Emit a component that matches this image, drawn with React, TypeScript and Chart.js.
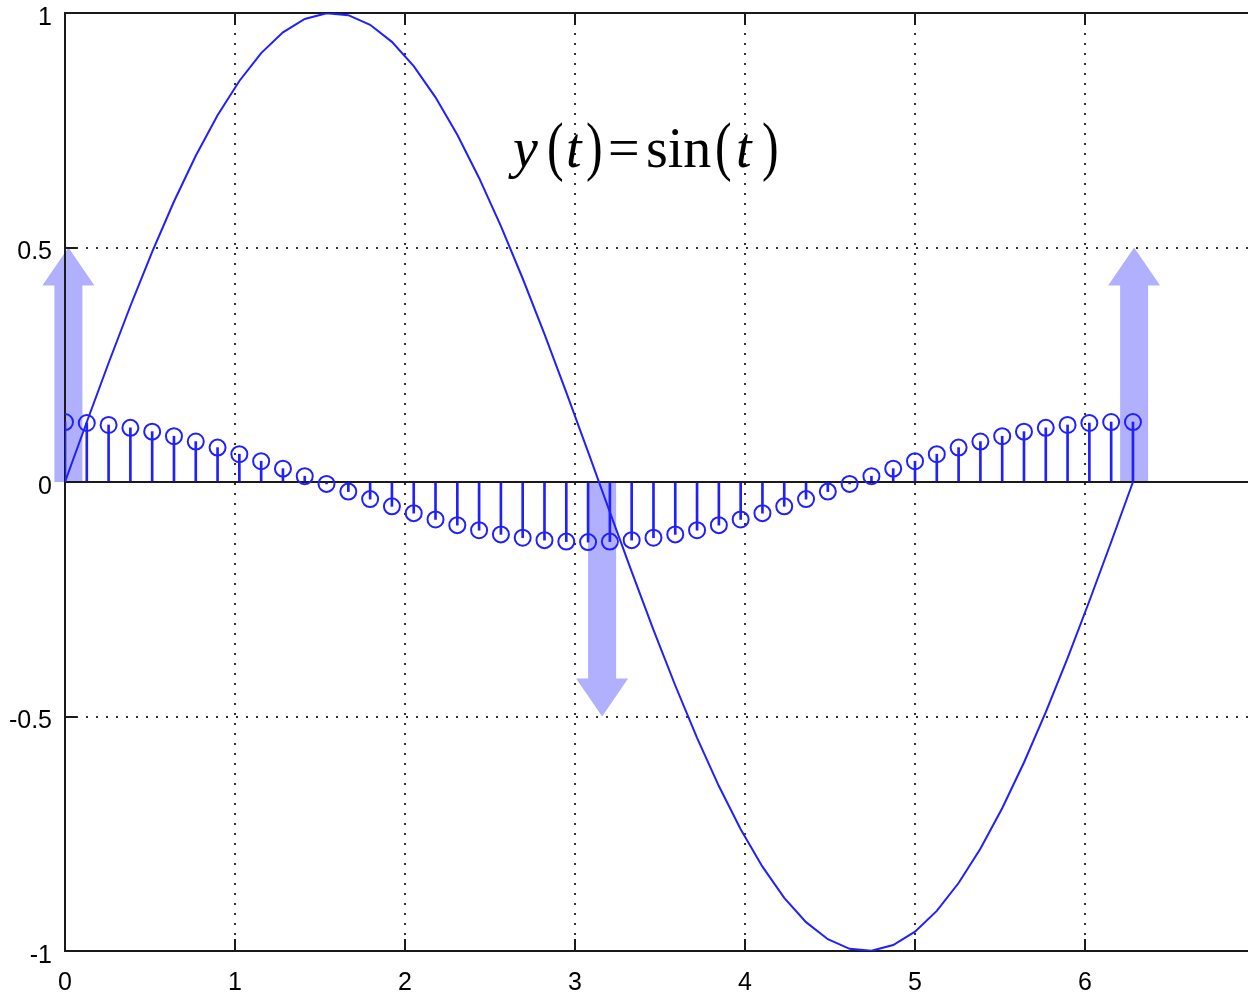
import React, { useEffect, useRef } from "react";
import { Chart, registerables } from "chart.js";

Chart.register(...registerables);

// sample instants t (0 .. 2π, 50 samples)
const T = [
  0, 0.1282, 0.2565, 0.3847, 0.5129, 0.6411, 0.7694, 0.8976, 1.0258, 1.1541,
  1.2823, 1.4105, 1.5387, 1.667, 1.7952, 1.9234, 2.0517, 2.1799, 2.3081, 2.4363,
  2.5646, 2.6928, 2.821, 2.9493, 3.0775, 3.2057, 3.3339, 3.4622, 3.5904, 3.7186,
  3.8469, 3.9751, 4.1033, 4.2315, 4.3598, 4.488, 4.6162, 4.7445, 4.8727, 5.0009,
  5.1291, 5.2574, 5.3856, 5.5138, 5.642, 5.7703, 5.8985, 6.0267, 6.155, 6.2832,
];

// y(t) = sin(t) curve values
const SINE = [
  0, 0.1279, 0.2537, 0.3753, 0.4907, 0.5981, 0.6957, 0.7818, 0.8551, 0.9144,
  0.9587, 0.9872, 0.9995, 0.9954, 0.9749, 0.9385, 0.8866, 0.8202, 0.7403, 0.6483,
  0.5455, 0.4339, 0.3151, 0.1912, 0.0641, -0.0641, -0.1912, -0.3151, -0.4339, -0.5455,
  -0.6483, -0.7403, -0.8202, -0.8866, -0.9385, -0.9749, -0.9954, -0.9995, -0.9872, -0.9587,
  -0.9144, -0.8551, -0.7818, -0.6957, -0.5981, -0.4907, -0.3753, -0.2537, -0.1279, 0,
];

// stem (increment) values
const STEMS = [
  0.1279, 0.1258, 0.1216, 0.1155, 0.1074, 0.0976, 0.0862, 0.0733, 0.0593, 0.0443,
  0.0285, 0.0123, -0.0041, -0.0205, -0.0365, -0.0519, -0.0664, -0.0799, -0.092, -0.1028,
  -0.1117, -0.1188, -0.124, -0.1271, -0.1281, -0.1271, -0.124, -0.1188, -0.1117, -0.1028,
  -0.092, -0.0799, -0.0664, -0.0519, -0.0365, -0.0205, -0.0041, 0.0123, 0.0285, 0.0443,
  0.0593, 0.0733, 0.0862, 0.0976, 0.1074, 0.1155, 0.1216, 0.1258, 0.1279, 0.1279,
];

// phasor arrows (position on t, tip value; base at 0)
const ARROW_X = [0.02, 3.16, 6.29];
const ARROW_Y = [0.5, -0.5, 0.5];

const X_MIN = 0;
const X_MAX = 6.96;
const X_STEP = 1;
const Y_MIN = -1;
const Y_MAX = 1;
const Y_STEP = 0.5;

// formula annotation, anchored in data coordinates
const TITLE_AT = { x: 2.6176, y: 0.6716 };
const TITLE_PARTS = [
  { s: "y", italic: true, dx: 3, paren: false },
  { s: "(", italic: false, dx: 37, paren: true },
  { s: "t", italic: true, dx: 56, paren: false },
  { s: ")", italic: false, dx: 76, paren: true },
  { s: "=", italic: false, dx: 98, paren: false },
  { s: "sin", italic: false, dx: 136, paren: false },
  { s: "(", italic: false, dx: 205, paren: true },
  { s: "t", italic: true, dx: 226, paren: false },
  { s: ")", italic: false, dx: 252, paren: true },
];

const BLUE = "rgb(32,32,255)";
const SANS = '"Liberation Sans", Arial, Helvetica, sans-serif';
const SERIF = '"Liberation Serif", "Times New Roman", serif';

const overlay = {
  id: "overlay",
  beforeDatasetsDraw(chart: any) {
    const { ctx, chartArea: a, scales } = chart;
    const xs = scales.x;
    const ys = scales.y;
    ctx.save();
    // arrows
    ctx.fillStyle = "rgba(80,80,255,0.45)";
    for (let i = 0; i < ARROW_X.length; i++) {
      const cx = xs.getPixelForValue(ARROW_X[i]);
      const yb = ys.getPixelForValue(0);
      const yt = ys.getPixelForValue(ARROW_Y[i]);
      const dir = yt < yb ? -1 : 1;
      const yh = yt - dir * 38;
      ctx.beginPath();
      ctx.moveTo(cx - 14, yb);
      ctx.lineTo(cx - 14, yh);
      ctx.lineTo(cx - 26, yh);
      ctx.lineTo(cx, yt);
      ctx.lineTo(cx + 26, yh);
      ctx.lineTo(cx + 14, yh);
      ctx.lineTo(cx + 14, yb);
      ctx.closePath();
      ctx.fill();
    }
    // solid frame lines and zero line
    ctx.strokeStyle = "#1a1a1a";
    ctx.lineWidth = 2;
    const seg = (x1: number, y1: number, x2: number, y2: number) => {
      ctx.beginPath();
      ctx.moveTo(x1, y1);
      ctx.lineTo(x2, y2);
      ctx.stroke();
    };
    const y0 = ys.getPixelForValue(0);
    seg(a.left, y0, a.right, y0);
    seg(a.left, a.top, a.right, a.top);
    seg(a.left, a.bottom, a.right, a.bottom);
    seg(a.left, a.top - 1, a.left, a.bottom + 1);
    // inward tick marks
    for (const t of xs.ticks) {
      const px = Math.round(xs.getPixelForValue(t.value));
      seg(px, a.bottom, px, a.bottom - 12);
      seg(px, a.top, px, a.top + 12);
    }
    for (const t of ys.ticks) {
      const py = Math.round(ys.getPixelForValue(t.value));
      seg(a.left, py, a.left + 12, py);
    }
    ctx.restore();
  },
  afterDatasetsDraw(chart: any) {
    const { ctx, scales } = chart;
    const x0 = scales.x.getPixelForValue(TITLE_AT.x);
    const yb = scales.y.getPixelForValue(TITLE_AT.y);
    ctx.save();
    ctx.fillStyle = "#000";
    ctx.textBaseline = "alphabetic";
    ctx.textAlign = "left";
    for (const p of TITLE_PARTS) {
      if (p.paren) {
        ctx.save();
        ctx.font = `50px ${SERIF}`;
        ctx.translate(x0 + p.dx, yb + 1);
        ctx.scale(1, 1.3);
        ctx.fillText(p.s, 0, 0);
        ctx.restore();
      } else {
        ctx.font = `${p.italic ? "italic " : ""}56px ${SERIF}`;
        ctx.fillText(p.s, x0 + p.dx, yb);
      }
    }
    ctx.restore();
  },
};

export default function App() {
  const ref = useRef<HTMLCanvasElement | null>(null);

  useEffect(() => {
    document.body.style.margin = "0";
    const canvas = ref.current;
    if (!canvas) return;
    const stemPts = T.map((t, i) => ({ x: t, y: STEMS[i] }));
    const sinePts = T.map((t, i) => ({ x: t, y: SINE[i] }));
    const fmt = (v: any) => String(Math.round(Number(v) * 100) / 100);
    const chart = new Chart(canvas, {
      type: "line",
      data: {
        datasets: [
          {
            type: "bar",
            data: stemPts,
            backgroundColor: BLUE,
            borderWidth: 0,
            barThickness: 2,
            order: 3,
          } as any,
          {
            type: "line",
            data: stemPts,
            showLine: false,
            pointRadius: 8,
            pointBorderWidth: 2,
            pointBorderColor: BLUE,
            pointBackgroundColor: "rgba(0,0,0,0)",
            order: 2,
          },
          {
            type: "line",
            data: sinePts,
            borderColor: BLUE,
            borderWidth: 2,
            pointRadius: 0,
            tension: 0,
            fill: false,
            order: 1,
          },
        ],
      },
      options: {
        animation: false,
        responsive: false,
        events: [],
        layout: { autoPadding: false, padding: { top: 13, right: 0, bottom: 0, left: 0 } },
        plugins: {
          legend: { display: false },
          tooltip: { enabled: false },
        },
        scales: {
          x: {
            type: "linear",
            min: X_MIN,
            max: X_MAX,
            offset: false,
            ticks: {
              stepSize: X_STEP,
              includeBounds: false,
              padding: 20,
              color: "#000",
              callback: fmt,
              font: { family: SANS, size: 25, lineHeight: 1 },
            },
            grid: { color: "#333", lineWidth: 2, drawTicks: false, offset: false },
            border: { display: true, color: "#1a1a1a", width: 2, dash: [2, 8] },
            afterFit: (s: any) => {
              s.height = 42;
              s.paddingLeft = 0;
              s.paddingRight = 0;
            },
          },
          y: {
            type: "linear",
            min: Y_MIN,
            max: Y_MAX,
            beginAtZero: false,
            ticks: {
              stepSize: Y_STEP,
              padding: 13,
              labelOffset: 5,
              color: "#000",
              callback: fmt,
              font: { family: SANS, size: 25, lineHeight: 1 },
            },
            grid: { color: "#333", lineWidth: 2, drawTicks: false },
            border: { display: true, color: "#1a1a1a", width: 2, dash: [2, 8] },
            afterFit: (s: any) => {
              s.width = 65;
              s.paddingTop = 0;
              s.paddingBottom = 0;
            },
          },
        },
      },
      plugins: [overlay],
    } as any);
    return () => chart.destroy();
  }, []);

  return (
    <div style={{ position: "absolute", left: 0, top: 0, width: 1248, height: 993, background: "#fff" }}>
      <canvas ref={ref} width={1248} height={993} />
    </div>
  );
}
